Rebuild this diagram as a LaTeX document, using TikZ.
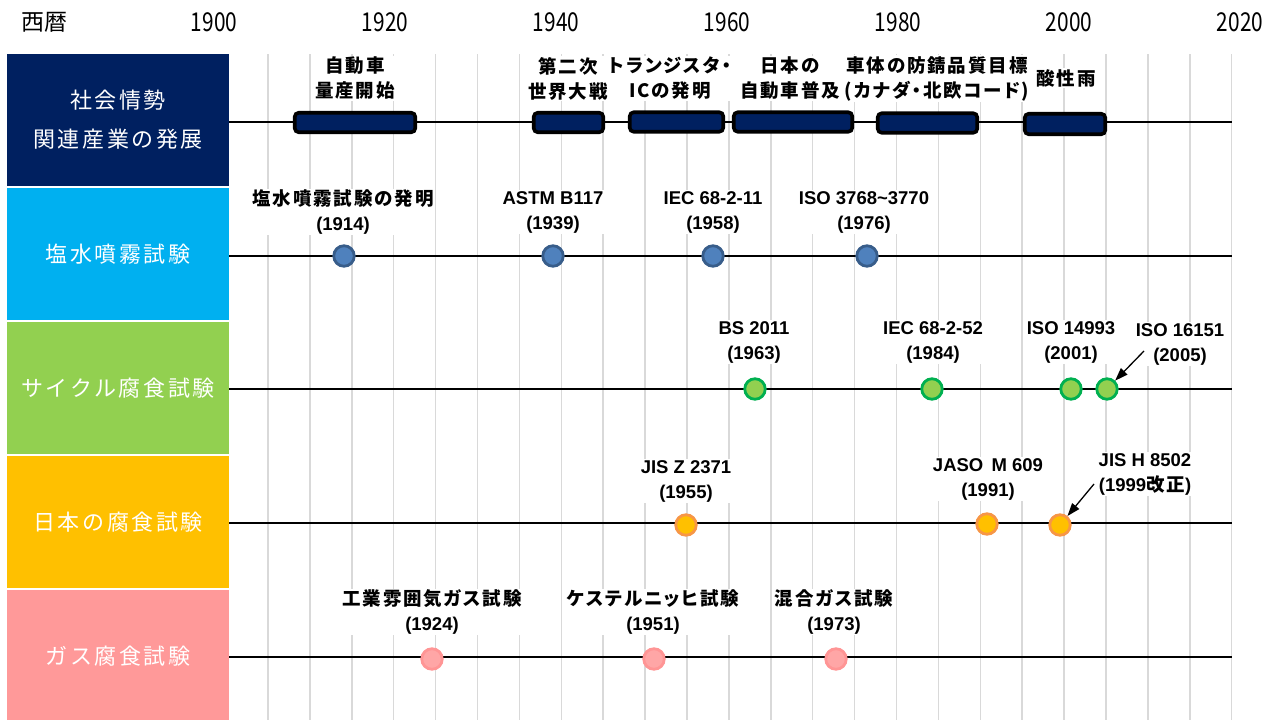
\documentclass[tikz,border=0pt]{standalone}
\usepackage{fontspec}
\setmainfont{Liberation Sans}
\newfontfamily\jpL[LetterSpace=12]{Noto Sans CJK JP}
\newfontfamily\jpB[RawFeature=+palt,LetterSpace=10]{Noto Sans CJK JP}
\newfontfamily\jpH{Noto Sans CJK JP}
\usetikzlibrary{arrows.meta}
\definecolor{navy}{HTML}{002060}
\definecolor{cyanb}{HTML}{00B0F0}
\definecolor{greenb}{HTML}{92D050}
\definecolor{goldb}{HTML}{FFC000}
\definecolor{pinkb}{HTML}{FF9999}
\definecolor{gridc}{HTML}{D9D9D9}
\definecolor{blueM}{HTML}{4F81BD}
\definecolor{blueB}{HTML}{385D8A}
\definecolor{greenM}{HTML}{92D050}
\definecolor{greenB}{HTML}{00B050}
\definecolor{orangeM}{HTML}{FFC000}
\definecolor{orangeB}{HTML}{F79646}
\definecolor{pinkM}{HTML}{FFA6A6}
\definecolor{pinkB}{HTML}{FF9595}
\tikzset{
  gridline/.style={draw=gridc, line width=1.5pt},
  tline/.style={draw=black, line width=1.5pt},
  panel/.style={rectangle, draw=none, minimum width=222pt, minimum height=132pt, inner sep=0pt,
    text=white, align=center, font=\jpL\fontsize{22}{39}\selectfont},
  bar/.style={rectangle, rounded corners=4pt, draw=black, line width=3.6pt, fill=navy,
    minimum height=19.5pt, inner sep=0pt},
  marker/.style={circle, inner sep=0pt, minimum size=20.5pt, line width=2.8pt},
  mblue/.style={marker, draw=blueB, fill=blueM},
  mgreen/.style={marker, draw=greenB, fill=greenM},
  morange/.style={marker, draw=orangeB, fill=orangeM},
  mpink/.style={marker, draw=pinkB, fill=pinkM},
  lab/.style={fill=white, inner sep=1pt, align=center, font=\bfseries\fontsize{18.5}{25}\selectfont},
  yearlab/.style={font=\jpH\fontsize{26}{30}\selectfont, inner sep=0pt},
  arr/.style={-{Triangle[length=13pt,width=9pt]}, line width=1.3pt},
}
\newcommand{\yr}[1]{\scalebox{0.8}[1]{#1}}
\begin{document}
\begin{tikzpicture}[x=1pt,y=-1pt]
\useasboundingbox (0,0) rectangle (1270,720);
\fill[white] (0,0) rectangle (1270,720);

% header
\node[yearlab, font=\jpH\fontsize{23}{26}\selectfont] (hdr) at (44,22) {西暦};
\node[yearlab] (y1900) at (214,22) {\yr{1900}};
\node[yearlab] (y1920) at (385,22) {\yr{1920}};
\node[yearlab] (y1940) at (556,22) {\yr{1940}};
\node[yearlab] (y1960) at (727,22) {\yr{1960}};
\node[yearlab] (y1980) at (898,22) {\yr{1980}};
\node[yearlab] (y2000) at (1069,22) {\yr{2000}};
\node[yearlab] (y2020) at (1240,22) {\yr{2020}};

% grid
\foreach \k in {0,...,23} \draw[gridline] ({268+\k*41.9},54) -- ({268+\k*41.9},720);

% left panels
\node[panel, fill=navy] (p1) at (118,120) {社会情勢\\関連産業の発展};
\node[panel, fill=cyanb] (p2) at (118,254) {塩水噴霧試験};
\node[panel, fill=greenb] (p3) at (118,388) {サイクル腐食試験};
\node[panel, fill=goldb] (p4) at (118,522) {日本の腐食試験};
\node[panel, fill=pinkb] (p5) at (118,656) {ガス腐食試験};

% timeline lines
\coordinate (e1) at (1232,122);
\coordinate (e2) at (1232,256);
\coordinate (e3) at (1232,389);
\coordinate (e4) at (1232,523);
\coordinate (e5) at (1232,657);
\draw[tline] (p1.east |- e1) -- (e1);
\draw[tline] (p2.east |- e2) -- (e2);
\draw[tline] (p3.east |- e3) -- (e3);
\draw[tline] (p4.east |- e4) -- (e4);
\draw[tline] (p5.east |- e5) -- (e5);

% row 1 bars
\node[bar, minimum width=120.5pt] (b1) at (355,122.5) {};
\node[bar, minimum width=69.5pt] (b2) at (568.5,122.5) {};
\node[bar, minimum width=93.5pt] (b3) at (676.5,122) {};
\node[bar, minimum width=118.5pt] (b4) at (793,122) {};
\node[bar, minimum width=99.5pt] (b5) at (927.5,123) {};
\node[bar, minimum width=80.5pt, minimum height=20.5pt] (b6) at (1065,124) {};

\node[lab] (t1) at (355,78.5) {{\jpB 自動車}\\{\jpB 量産開始}};
\node[lab] (t2) at (568,78.5) {{\jpB 第二次}\\{\jpB 世界大戦}};
\node[lab] (t3) at (670,78.5) {{\jpB トランジスタ・}\\{\jpB ICの発明}};
\node[lab] (t4) at (790,78.5) {{\jpB 日本の}\\{\jpB 自動車普及}};
\node[lab] (t5) at (937,78.5) {{\jpB 車体の防錆品質目標}\\{\jpB (カナダ・北欧コード)}};
\node[lab] (t6) at (1066,78) {{\jpB 酸性雨}};

% row 2 markers
\node[mblue] (m21) at (344,256) {};
\node[mblue] (m22) at (553,256) {};
\node[mblue] (m23) at (713,256) {};
\node[mblue] (m24) at (867,256) {};
\node[lab] (l21) at (343,212) {{\jpB 塩水噴霧試験の発明}\\(1914)};
\node[lab] (l22) at (553,212) {ASTM B117\\(1939)};
\node[lab] (l23) at (713,212) {IEC 68-2-11\\(1958)};
\node[lab] (l24) at (864,212) {ISO 3768\textasciitilde3770\\(1976)};

% row 3 markers
\node[mgreen] (m31) at (755,389) {};
\node[mgreen] (m32) at (932,389) {};
\node[mgreen] (m33) at (1071,389) {};
\node[mgreen] (m34) at (1107,389) {};
\node[lab] (l31) at (754,342) {BS 2011\\(1963)};
\node[lab] (l32) at (933,342) {IEC 68-2-52\\(1984)};
\node[lab] (l33) at (1071,342) {ISO 14993\\(2001)};
\node[lab] (l34) at (1180,344) {ISO 16151\\(2005)};
\coordinate (a1) at (1144,351);
\draw[arr] (a1) -- (m34);

% row 4 markers
\node[morange] (m41) at (686,525) {};
\node[morange] (m42) at (987,524) {};
\node[morange] (m43) at (1060,525) {};
\node[lab] (l41) at (686,481) {JIS Z 2371\\(1955)};
\node[lab] (l42) at (988,479) {JASO\, M 609\\(1991)};
\node[lab] (l43) at (1145,474) {JIS H 8502\\(1999{\jpB 改正})};
\coordinate (a2) at (1094,484);
\draw[arr] (a2) -- (m43);

% row 5 markers
\node[mpink] (m51) at (432,659) {};
\node[mpink] (m52) at (654,659) {};
\node[mpink] (m53) at (836,659) {};
\node[lab] (l51) at (432,612) {{\jpB 工業雰囲気ガス試験}\\(1924)};
\node[lab] (l52) at (653,612) {{\jpB ケステルニッヒ試験}\\(1951)};
\node[lab] (l53) at (834,612) {{\jpB 混合ガス試験}\\(1973)};
\end{tikzpicture}
\end{document}
